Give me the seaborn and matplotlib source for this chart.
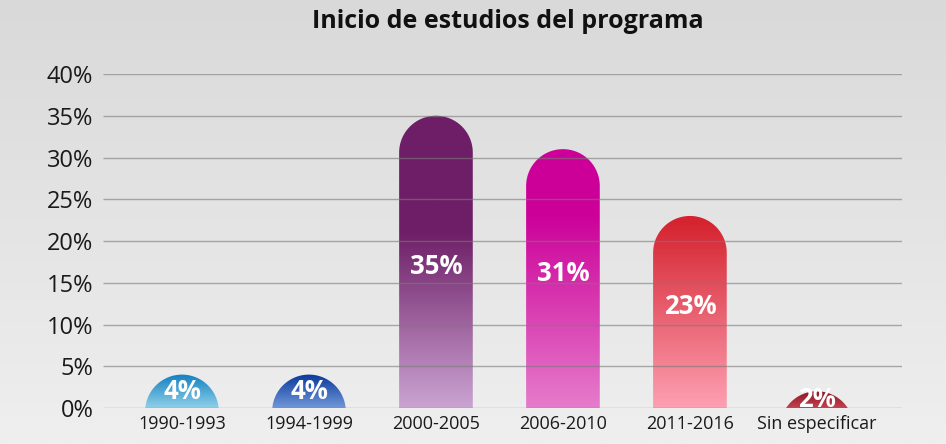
import numpy as np
import pandas as pd
import seaborn as sns
import matplotlib.pyplot as plt
from matplotlib.colors import LinearSegmentedColormap
from matplotlib.path import Path
from matplotlib.patches import PathPatch

periods = ["1990-1993", "1994-1999", "2000-2005", "2006-2010", "2011-2016", "Sin especificar"]
shares = [4, 4, 35, 31, 23, 2]
y_ticks = [0, 5, 10, 15, 20, 25, 30, 35, 40]

# colour at the top and at the bottom of each bar, and where the top colour starts
top_colors = ["#1380c0", "#0a389c", "#6e1e67", "#cc0099", "#d5232f", "#8c1626"]
bottom_colors = ["#8fd0ea", "#7098d8", "#caa4d2", "#e67ccb", "#fda0b2", "#c4424f"]
top_start = [1.0, 1.0, 0.6, 0.75, 0.97, 1.0]

sns.set_theme(style="white")
plt.rcParams["font.family"] = ["Open Sans", "DejaVu Sans"]

W, H = 946, 444
fig = plt.figure(figsize=(W / 100, H / 100), dpi=100)

# grey gradient background
bg = fig.add_axes([0, 0, 1, 1], zorder=-10)
bg.imshow(np.linspace(0, 1, 256).reshape(-1, 1), aspect="auto", extent=[0, 1, 0, 1],
          cmap=LinearSegmentedColormap.from_list("bg", ["#d9d9d9", "#efefef"]))
bg.axis("off")

ax = fig.add_axes([103 / W, 36 / H, 799 / W, 334 / H])
ax.patch.set_alpha(0)

df = pd.DataFrame({"periodo": periods, "pct": shares})
sns.barplot(data=df, x="periodo", y="pct", ax=ax, width=0.58, color="#888888", errorbar=None)

xlim = (-0.622, 5.67)
ylim = (0, 40)
px_x = 799 / (xlim[1] - xlim[0])
px_y = 334 / (ylim[1] - ylim[0])

for i, bar in enumerate(list(ax.patches)):
    x0 = bar.get_x()
    w = bar.get_width()
    h = bar.get_height()
    bar.set_visible(False)
    rx = w / 2
    ry = rx * px_x / px_y
    cx = x0 + rx
    t = np.linspace(np.pi, 0, 60)
    verts = [(x0, -ry)] + [(cx + rx * np.cos(a), h - ry + ry * np.sin(a)) for a in t] + [(x0 + w, -ry), (x0, -ry)]
    codes = [Path.MOVETO] + [Path.LINETO] * (len(verts) - 2) + [Path.CLOSEPOLY]
    shape = PathPatch(Path(verts, codes), facecolor="none", edgecolor="none")
    ax.add_patch(shape)
    stops = [(0, bottom_colors[i]), (top_start[i], top_colors[i])]
    if top_start[i] < 1:
        stops.append((1, top_colors[i]))
    cmap = LinearSegmentedColormap.from_list(f"b{i}", stops)
    img = ax.imshow(np.linspace(1, 0, 256).reshape(-1, 1), aspect="auto", cmap=cmap,
                    extent=[x0, x0 + w, 0, h], zorder=2, vmin=0, vmax=1)
    img.set_clip_path(shape)
    ly = min(h / 2 + 0.6, 17) if h > 10 else h / 2
    ax.text(cx, ly, f"{shares[i]}%", color="white", fontsize=18.5, fontweight="bold",
            ha="center", va="center", zorder=7)

ax.hlines(y_ticks, xlim[0], xlim[1], color="#7a7a7a", alpha=0.6, lw=1, zorder=5)
ax.set_xlim(*xlim)
ax.set_ylim(*ylim)
ax.set_yticks(y_ticks)
ax.set_yticklabels([f"{v}%" for v in y_ticks], fontsize=17, color="#1a1a1a")
ax.tick_params(axis="y", pad=7, length=0)
ax.tick_params(axis="x", pad=5, length=0, labelsize=13, labelcolor="#1a1a1a")
ax.set_xlabel("")
ax.set_ylabel("")
sns.despine(ax=ax, left=True, bottom=True)

fig.text(508 / W, 1 - 22 / H, "Inicio de estudios del programa", fontsize=18,
         fontweight="bold", color="#111111", ha="center", va="center")

fig.savefig("out.png", dpi=100)
